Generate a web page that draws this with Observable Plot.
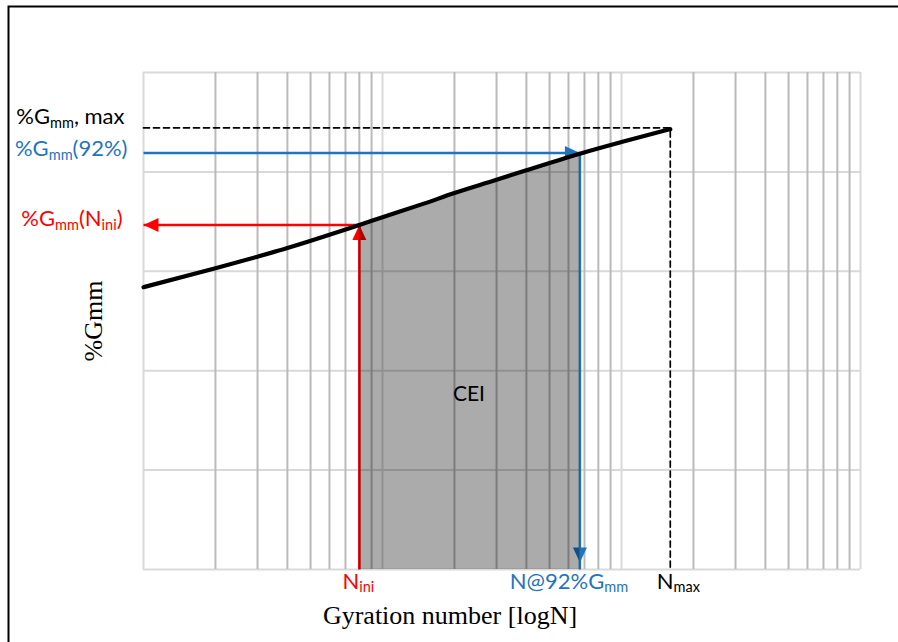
<!DOCTYPE html>
<html><head><meta charset="utf-8">
<script src="https://cdn.jsdelivr.net/npm/d3@7"></script>
<script src="https://cdn.jsdelivr.net/npm/@observablehq/plot@0.6"></script>
<style>body{margin:0;background:#fff}svg{display:block}</style>
</head><body><div id="chart"></div>
<script>
// ---- data ----
const curveN = [1, 2, 3, 4, 6, 8, 10, 15, 20, 30, 40, 67, 100, 160];
const curveG = [88.52, 89.09, 89.44, 89.70, 90.10, 90.40, 90.63, 91.05, 91.36, 91.76, 92.05, 92.55, 92.90, 93.29];
const N_INI = 8, N_92 = 67, N_MAX = 160;
const G_INI = 90.40, G_92 = 92.57, G_MAX = 93.33;
const xMajorTicks = [1, 10, 100, 1000];
const xMinorTicks = [2, 3, 4, 5, 6, 7, 8, 9, 20, 30, 40, 50, 60, 70, 80, 90, 200, 300, 400, 500, 600, 700, 800, 900];
const yTicks = [80, 83, 86, 89, 92, 95];
const leftLabels = ["%G_{mm}, max", "%G_{mm}(92%)", "%G_{mm}(N_{ini})"];
const bottomLabels = ["N_{ini}", "N@92%G_{mm}", "N_{max}"];
const ceiLabel = "CEI", ceiN = 23, ceiG = 85.3;
const xTitle = "Gyration number [logN]";
const yTitle = "%Gmm";

// ---- styles ----
const RED = "#ff0000", BLUE = "#1f74c0", BLACK = "#000000";
const LBL_FONT = "Lato, 'Open Sans', sans-serif", LBL_SIZE = 22;
const SERIF = "'Liberation Serif', 'DejaVu Serif', serif";

const X0 = xMajorTicks[0], Y0 = yTicks[0];
const curve = curveN.map((N, i) => ({N, G: curveG[i]}));
const shaded = curve.filter(d => d.N >= N_INI && d.N <= N_92);

// arrow-head symbols: tip at the origin
const L = 15, W = 7;
const headLeft  = {draw(c){ c.moveTo(0,0); c.lineTo(L,-W); c.lineTo(L,W); c.closePath(); }};
const headRight = {draw(c){ c.moveTo(0,0); c.lineTo(-L,-W); c.lineTo(-L,W); c.closePath(); }};
const headUp    = {draw(c){ c.moveTo(0,0); c.lineTo(-W,L); c.lineTo(W,L); c.closePath(); }};
const headDown  = {draw(c){ c.moveTo(0,0); c.lineTo(-W,-L); c.lineTo(W,-L); c.closePath(); }};

const lbl = (extra) => ({x: "N", y: "G", text: "t", fontFamily: LBL_FONT, fontSize: LBL_SIZE, ...extra});

const svg = Plot.plot({
  width: 898, height: 642,
  marginLeft: 143, marginRight: 38, marginTop: 72, marginBottom: 73,
  x: {type: "log", domain: [X0, xMajorTicks[3]], axis: null},
  y: {domain: [Y0, yTicks[yTicks.length - 1]], axis: null},
  style: {background: "white"},
  marks: [
    Plot.ruleY(yTicks, {stroke: "#d9d9d9", strokeWidth: 2}),
    Plot.ruleX(xMajorTicks, {stroke: "#d9d9d9", strokeWidth: 2}),
    Plot.ruleX(xMinorTicks, {stroke: "#bababa", strokeWidth: 2}),
    // dashed max lines
    Plot.line([{N: X0, G: G_MAX}, {N: N_MAX, G: G_MAX}, {N: N_MAX, G: Y0}],
      {x: "N", y: "G", stroke: BLACK, strokeWidth: 1.7, strokeDasharray: "6,4", curve: "linear"}),
    // red N_ini path
    Plot.line([{N: N_INI, G: Y0}, {N: N_INI, G: G_INI}, {N: X0, G: G_INI}],
      {x: "N", y: "G", stroke: RED, strokeWidth: 2.5, strokeLinejoin: "miter", strokeLinecap: "butt"}),
    Plot.dot([{N: X0, G: G_INI}], {x: "N", y: "G", symbol: headLeft, fill: RED, r: 5}),
    Plot.dot([{N: N_INI, G: G_INI}], {x: "N", y: "G", symbol: headUp, fill: RED, r: 5}),
    // blue 92% path
    Plot.line([{N: X0, G: G_92}, {N: N_92, G: G_92}, {N: N_92, G: Y0}],
      {x: "N", y: "G", stroke: BLUE, strokeWidth: 2.5, strokeLinejoin: "miter", strokeLinecap: "butt"}),
    Plot.dot([{N: N_92, G: G_92}], {x: "N", y: "G", symbol: headRight, fill: BLUE, r: 5}),
    Plot.dot([{N: N_92, G: Y0}], {x: "N", y: "G", symbol: headDown, fill: BLUE, r: 5, dy: -7}),
    // CEI shaded area
    Plot.areaY(shaded, {x: "N", y1: Y0, y2: "G", fill: "#000", fillOpacity: 0.33, curve: "monotone-x"}),
    // compaction curve
    Plot.line(curve, {x: "N", y: "G", stroke: BLACK, strokeWidth: 4.2, curve: "monotone-x"}),
    // labels
    Plot.text([{N: ceiN, G: ceiG, t: ceiLabel}], lbl({fill: BLACK, fontSize: 21})),
    Plot.text([{N: X0, G: G_MAX, t: leftLabels[0]}], lbl({fill: BLACK, textAnchor: "end", lineAnchor: "bottom", dx: -19, dy: -4})),
    Plot.text([{N: X0, G: G_92, t: leftLabels[1]}], lbl({fill: BLUE, textAnchor: "end", lineAnchor: "bottom", dx: -16, dy: 3})),
    Plot.text([{N: X0, G: G_INI, t: leftLabels[2]}], lbl({fill: RED, textAnchor: "end", lineAnchor: "bottom", dx: -21, dy: 1})),
    Plot.text([{N: N_INI, G: Y0, t: bottomLabels[0]}], lbl({fill: RED, lineAnchor: "bottom", dx: -1, dy: 19})),
    Plot.text([{N: N_92, G: Y0, t: bottomLabels[1]}], lbl({fill: BLUE, lineAnchor: "bottom", dx: -11, dy: 19})),
    Plot.text([{N: N_MAX, G: Y0, t: bottomLabels[2]}], lbl({fill: BLACK, lineAnchor: "bottom", dx: 8, dy: 19})),
    // axis titles
    Plot.text([yTitle], {text: d => d, frameAnchor: "left", textAnchor: "middle", rotate: -90, dx: -42, lineAnchor: "bottom",
      fontFamily: SERIF, fontSize: 26, fill: BLACK}),
    Plot.text([xTitle], {text: d => d, frameAnchor: "bottom", textAnchor: "middle", dx: -52, dy: 54, lineAnchor: "bottom",
      fontFamily: SERIF, fontSize: 26, fill: BLACK})
  ]
});

document.getElementById("chart").appendChild(svg);

// outer frame (left and top edges visible in the reference)
d3.select(svg).append("path").attr("d", "M8.5,642V6.5H898")
  .attr("fill", "none").attr("stroke", "#000").attr("stroke-width", 2);

// turn _{...} markup into real subscript tspans
svg.querySelectorAll("text").forEach(t => {
  const s = t.textContent;
  if (!s.includes("_{")) return;
  const fs = parseFloat(getComputedStyle(t).fontSize) || LBL_SIZE;
  const subSize = fs * 0.66, shift = fs * 0.17;
  while (t.firstChild) t.removeChild(t.firstChild);
  const parts = s.split(/(_\{[^}]*\})/).filter(p => p.length);
  let inSub = false;
  const NS = "http://www.w3.org/2000/svg";
  parts.forEach(p => {
    const ts = document.createElementNS(NS, "tspan");
    if (p.startsWith("_{")) {
      ts.textContent = p.slice(2, -1);
      ts.setAttribute("font-size", subSize);
      ts.setAttribute("dy", shift);
      inSub = true;
    } else {
      ts.textContent = p;
      if (inSub) ts.setAttribute("dy", -shift);
      inSub = false;
    }
    t.appendChild(ts);
  });
});
</script>
</body></html>
